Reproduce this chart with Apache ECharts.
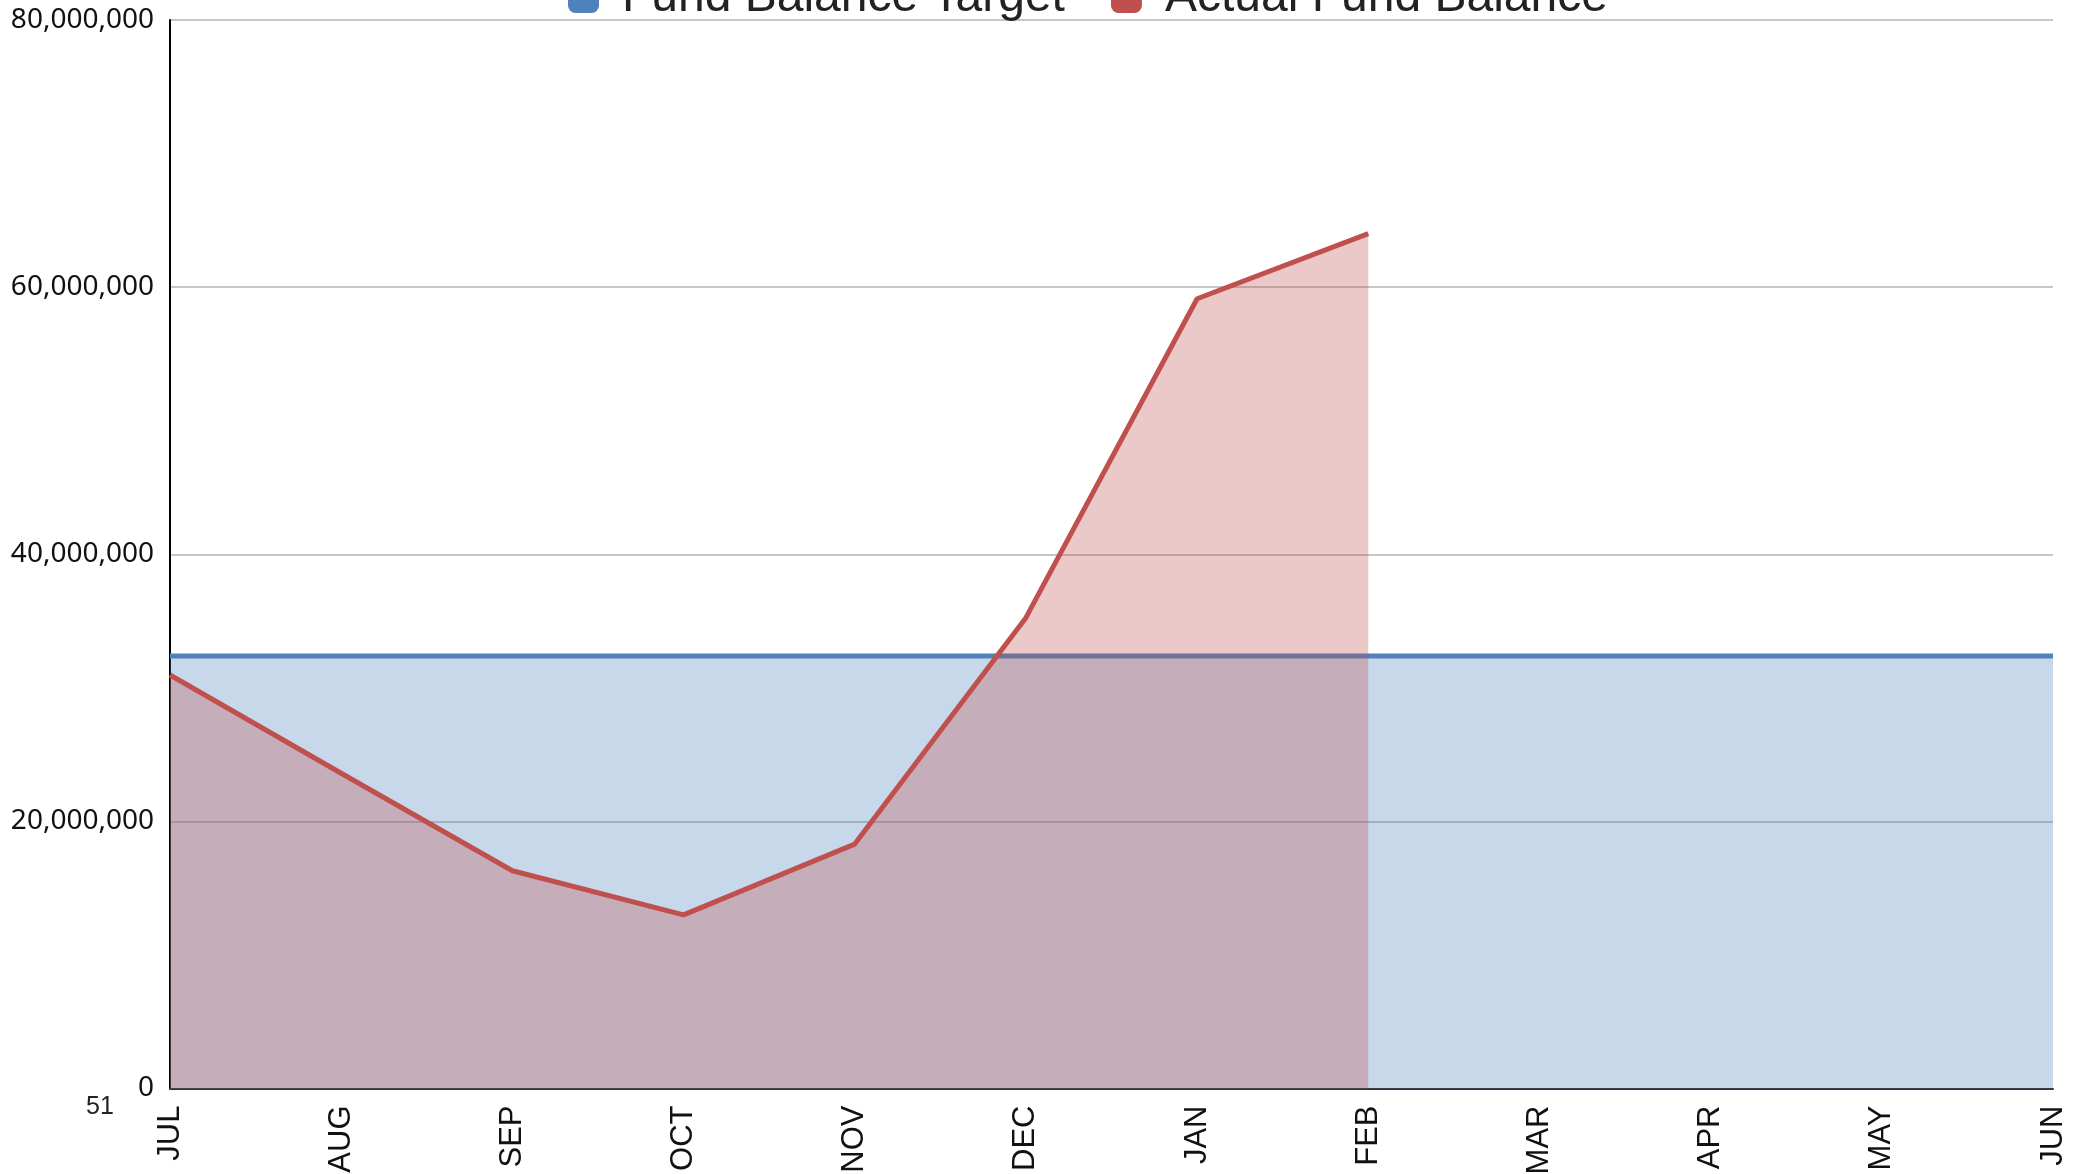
<!DOCTYPE html>
<html>
<head>
<meta charset="utf-8">
<script src="https://cdn.jsdelivr.net/npm/echarts@6/dist/echarts.min.js"></script>
<style>
html,body{margin:0;padding:0;background:#fff;}
#chart{width:2082px;height:1174px;}
</style>
</head>
<body>
<div id="chart"></div>
<script>
const months = ['JUL','AUG','SEP','OCT','NOV','DEC','JAN','FEB','MAR','APR','MAY','JUN'];
const fundBalanceTarget = [32380000,32380000,32380000,32380000,32380000,32380000,32380000,32380000,32380000,32380000,32380000,32380000];
const actualFundBalance = [30960000,23600000,16300000,13000000,18300000,35250000,59130000,64000000,null,null,null,null];
const yTickValues = [0,20000000,40000000,60000000,80000000];
const seriesNames = ['Fund Balance Target','Actual Fund Balance'];
const cornerLabel = '51';

const chart = echarts.init(document.getElementById('chart'), null, {renderer:'canvas'});
chart.setOption({
  animation:false,
  backgroundColor:'#ffffff',
  grid:{left:170,right:29,top:20,bottom:85.5,containLabel:false,outerBoundsMode:'none'},
  legend:{
    left:568, top:-26, padding:0,
    itemWidth:31, itemHeight:30, itemGap:46,
    icon:'roundRect',
    textStyle:{fontFamily:'Liberation Sans',fontSize:48,color:'#222',padding:[0,0,0,18]},
    data:seriesNames
  },
  xAxis:{
    type:'category', data:months, boundaryGap:false,
    axisLine:{show:true,lineStyle:{color:'#333',width:2}},
    axisTick:{show:false},
    axisLabel:{rotate:90,margin:17,fontFamily:'Liberation Sans',fontSize:31,color:'#111',interval:0},
    splitLine:{show:false}
  },
  yAxis:{
    type:'value', min:yTickValues[0], max:yTickValues[yTickValues.length-1], interval:yTickValues[1]-yTickValues[0],
    axisLine:{show:true,lineStyle:{color:'#000',width:2}},
    axisTick:{show:false},
    axisLabel:{margin:16,fontFamily:'Noto Sans',fontSize:28,color:'#111',
      formatter:function(v){return v.toLocaleString('en-US');}},
    splitLine:{show:true,lineStyle:{color:'#c6c6c6',width:2}}
  },
  series:[
    {
      name:seriesNames[0], type:'line', data:fundBalanceTarget,
      showSymbol:false, symbol:'none',
      itemStyle:{color:'#4f81bd'},
      lineStyle:{color:'#4f81bd',width:5},
      areaStyle:{color:'#4f81bd',opacity:0.31},
      z:2
    },
    {
      name:seriesNames[1], type:'line', data:actualFundBalance,
      showSymbol:false, symbol:'none', connectNulls:false,
      itemStyle:{color:'#c0504d'},
      lineStyle:{color:'#c0504d',width:5},
      areaStyle:{color:'#c0504d',opacity:0.31},
      z:3
    }
  ],
  graphic:[
    {type:'text', left:86, top:1095,
     style:{text:cornerLabel, fontFamily:'Liberation Sans', fontSize:25, fill:'#222'}}
  ]
});
</script>
</body>
</html>
